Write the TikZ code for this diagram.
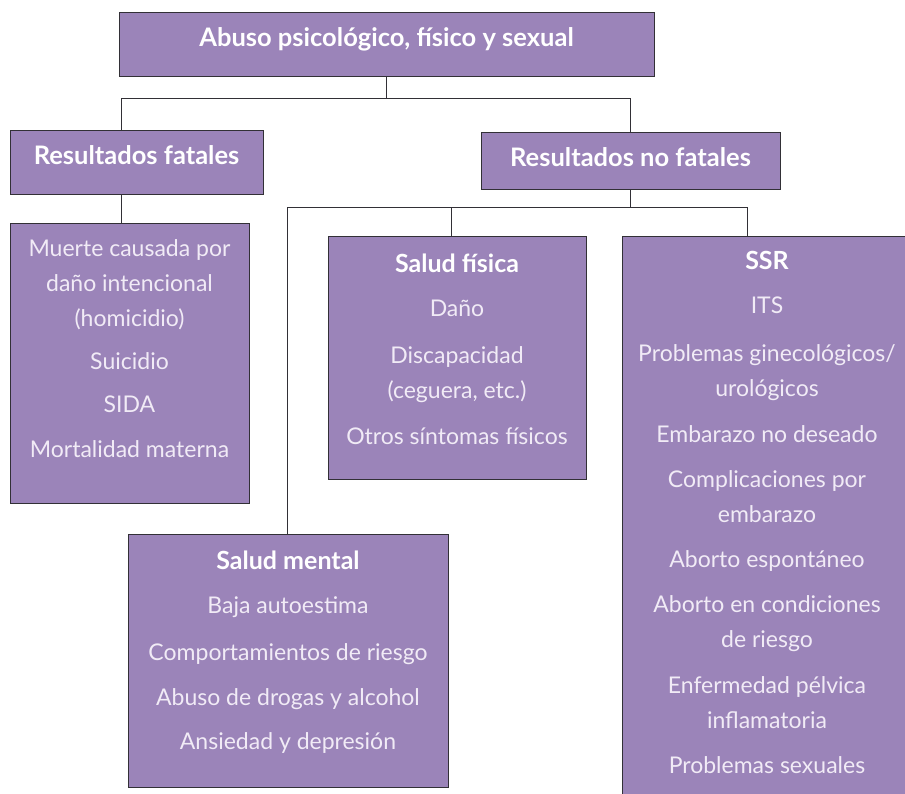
\documentclass[tikz,border=0pt]{standalone}
\usepackage{fontspec}
\setmainfont{Lato}
\usepackage{tikz}
\usetikzlibrary{positioning}
\definecolor{lila}{RGB}{155,132,185}
\definecolor{lilatext}{RGB}{241,235,246}
\definecolor{linea}{RGB}{50,48,54}
\tikzset{box/.style={draw=linea, line width=1pt, fill=lila, inner sep=0pt, outer sep=0pt},
         head/.style={text=white, font=\fontsize{25.5}{30}\selectfont\bfseries, inner sep=0pt},
         items/.style={text=lilatext, font=\fontsize{23}{35}\selectfont, align=center,
                       inner sep=0pt, anchor=north},
         conn/.style={draw=linea, line width=1pt}}
\newcommand{\boxtitle}[1]{{\fontsize{25}{35}\selectfont\bfseries\color{white}#1}}

\begin{document}
\begin{tikzpicture}[x=1pt,y=-1pt]
	  \useasboundingbox (0,0) rectangle (905,793);
	  % cajas
	  \node[box, minimum width=535, minimum height=64] (abuso) at (386.5,44) {};
	  \node[box, minimum width=253, minimum height=64] (fatal) at (136.5,162) {};
	  \node[box, minimum width=299, minimum height=57] (nofatal) at (630.5,160.5) {};
	  \node[box, minimum width=239, minimum height=280] (fatalbox) at (129.5,363) {};
	  \node[box, minimum width=258, minimum height=243] (fisica) at (457,357.5) {};
	  \node[box, minimum width=290, minimum height=570] (ssr) at (767,521) {};
	  \node[box, minimum width=320, minimum height=253] (mental) at (288,660.5) {};
	  % textos
	  \node[head, anchor=base] (abusot) at (386.5,46) {Abuso psicológico, físico y sexual};
	  \node[head, anchor=base] (fatalt) at (136.5,164) {Resultados fatales};
	  \node[head, anchor=base] (nofatalt) at (630.5,166) {Resultados no fatales};
	  \node[items] (fatali) at (129.5,239) {Muerte causada por\\ daño intencional\\ (homicidio)\\[8pt]
	      Suicidio\\[8pt] SIDA\\[10pt] Mortalidad materna};
	  \node[items] (fisicai) at (457,254) {\boxtitle{Salud física}\\[9pt] Daño\\[12pt]
	      Discapacidad\\ (ceguera, etc.)\\[11pt] Otros síntomas físicos};
	  \node[items] (ssri) at (767,251) {\boxtitle{SSR}\\[9pt] ITS\\[13pt]
	      Problemas ginecológicos/\\ urológicos\\[11pt] Embarazo no deseado\\[10pt]
	      Complicaciones por\\ embarazo\\[10pt] Aborto espontáneo\\[10pt]
	      Aborto en condiciones\\ de riesgo\\[11pt] Enfermedad pélvica\\ inflamatoria\\[10pt]
	      Problemas sexuales};
	  \node[items] (mentali) at (288,551) {\boxtitle{Salud mental}\\[9pt] Baja autoestima\\[12pt]
	      Comportamientos de riesgo\\[10pt] Abuso de drogas y alcohol\\[9pt] Ansiedad y depresión};
	  % conectores
	  \coordinate (bus1) at (0,98);
	  \coordinate (leg1) at (121,0);
	  \coordinate (bus2) at (0,207);
	  \coordinate (leg2) at (287,0);
	  \coordinate (leg3) at (451,0);
	  \coordinate (leg4) at (747,0);
	  \draw[conn] (abuso.south) -- (abuso.south |- bus1);
	  \draw[conn] (leg1 |- fatal.north) |- (bus1 -| nofatal.north) -- (nofatal.north);
	  \draw[conn] (leg1 |- fatal.south) -- (leg1 |- fatalbox.north);
	  \draw[conn] (nofatal.south) -- (nofatal.south |- bus2);
	  \draw[conn] (leg2 |- mental.north) |- (bus2 -| leg4) -- (leg4 |- ssr.north);
	  \draw[conn] (leg3 |- bus2) -- (leg3 |- fisica.north);
	\end{tikzpicture}
\end{document}
